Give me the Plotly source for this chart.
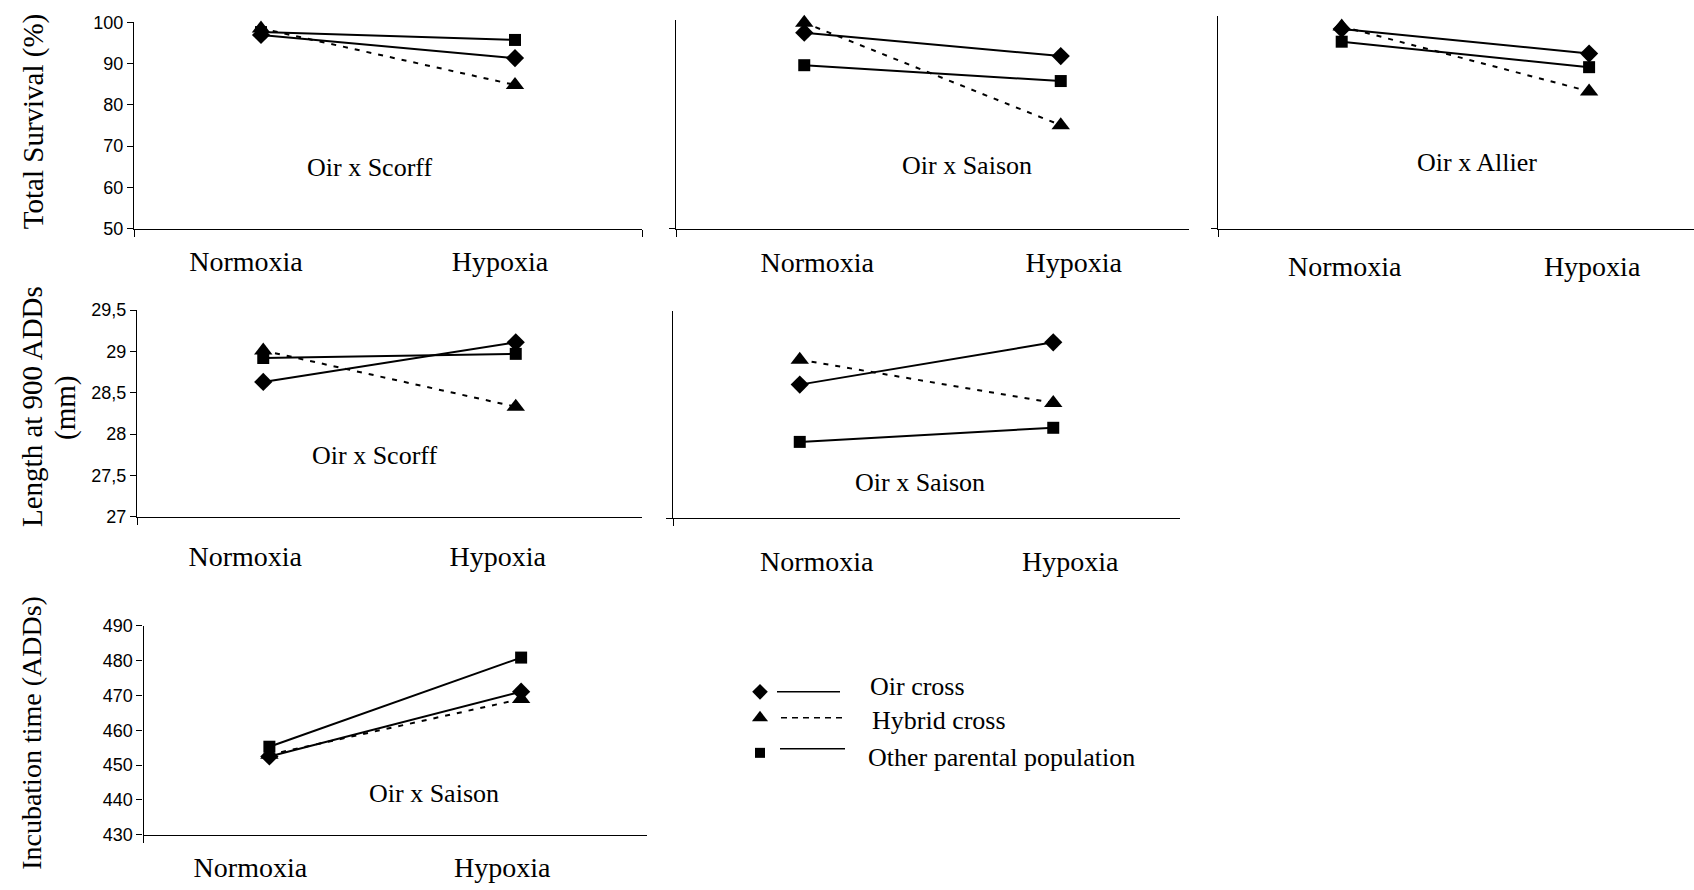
import plotly.graph_objects as go

# ---- data -------------------------------------------------------------
categories = ["Normoxia", "Hypoxia"]
series_names = ["Oir cross", "Hybrid cross", "Other parental population"]

survival_scorff_oir = [96.9, 91.3]
survival_scorff_hybrid = [98.5, 84.8]
survival_scorff_other = [97.6, 95.7]

survival_saison_oir = [97.0, 91.4]
survival_saison_hybrid = [99.4, 74.8]
survival_saison_other = [89.2, 85.4]

survival_allier_oir = [97.0, 91.2]
survival_allier_hybrid = [97.6, 82.3]
survival_allier_other = [94.0, 88.0]

length_scorff_oir = [28.63, 29.11]
length_scorff_hybrid = [29.01, 28.33]
length_scorff_other = [28.92, 28.97]

length_saison_oir = [28.61, 29.12]
length_saison_hybrid = [28.91, 28.39]
length_saison_other = [27.92, 28.09]

incubation_saison_oir = [452.5, 471.1]
incubation_saison_hybrid = [453.0, 469.0]
incubation_saison_other = [455.3, 480.9]

survival_ticks = [50, 60, 70, 80, 90, 100]
survival_ticktext = ["50", "60", "70", "80", "90", "100"]
length_ticks = [27, 27.5, 28, 28.5, 29, 29.5]
length_ticktext = ["27", "27,5", "28", "28,5", "29", "29,5"]
incubation_ticks = [430, 440, 450, 460, 470, 480, 490]
incubation_ticktext = ["430", "440", "450", "460", "470", "480", "490"]

# ---- page geometry ----------------------------------------------------
# Positions below are page pixels; fx/fy turn them into paper fractions.
W, H = 1694, 890
Y0, SY = 9.8, 0.978  # vertical placement of the page grid on the figure
SERIF = "Liberation Serif, Times New Roman, serif"
SANS = "Liberation Sans, Arial, sans-serif"


def fx(px):
    return min(max(px / W, 0.0), 1.0)


def fy(py):
    return min(max(1 - (py - Y0) / SY / H, 0.0), 1.0)


styles = {
    "Oir cross": dict(symbol="diamond", size=14, dash="solid"),
    "Hybrid cross": dict(symbol="triangle-up", size=16, dash="5px,7px"),
    "Other parental population": dict(symbol="square", size=12, dash="solid"),
}

panels = [
    dict(series=[survival_scorff_oir, survival_scorff_hybrid, survival_scorff_other],
         box=(134, 642, 22, 228.5), yrange=[50, 100],
         yticks=(survival_ticks, survival_ticktext), xend=1.5, xminor=[-0.5, 1.5],
         shift=-15, standoff=8, label="Oir x Scorff", lpos=(0.465, 0.298)),
    dict(series=[survival_saison_oir, survival_saison_hybrid, survival_saison_other],
         box=(676, 1189, 20, 228.5), yrange=[50, 100],
         yticks=None, xend=1.5, xminor=[-0.5],
         shift=13, standoff=9, label="Oir x Saison", lpos=(0.567, 0.305)),
    dict(series=[survival_allier_oir, survival_allier_hybrid, survival_allier_other],
         box=(1218, 1694, 16, 228.5), yrange=[50, 100],
         yticks=None, xend=1.424, xminor=[-0.5],
         shift=3, standoff=13, label="Oir x Allier", lpos=(0.544, 0.313)),
    dict(series=[length_scorff_oir, length_scorff_hybrid, length_scorff_other],
         box=(137, 642, 310, 516.7), yrange=[27, 29.5],
         yticks=(length_ticks, length_ticktext), xend=1.5, xminor=[-0.5],
         shift=-18, standoff=15, label="Oir x Scorff", lpos=(0.471, 0.298)),
    dict(series=[length_saison_oir, length_saison_hybrid, length_saison_other],
         box=(673, 1180, 310.7, 518.3), yrange=[27, 29.5],
         yticks=None, xend=1.5, xminor=[-0.5],
         shift=17, standoff=18, label="Oir x Saison", lpos=(0.487, 0.171)),
    dict(series=[incubation_saison_oir, incubation_saison_hybrid, incubation_saison_other],
         box=(143.5, 647, 626, 835), yrange=[430, 490],
         yticks=(incubation_ticks, incubation_ticktext), xend=1.5, xminor=[-0.5],
         shift=-19, standoff=7, label="Oir x Saison", lpos=(0.577, 0.196)),
]

fig = go.Figure()
layout = dict(
    width=W, height=H,
    margin=dict(l=0, r=0, t=0, b=0),
    paper_bgcolor="white", plot_bgcolor="rgba(0,0,0,0)",
    showlegend=False,
    annotations=[], shapes=[],
)

xpos = [0, 1]
for i, p in enumerate(panels, start=1):
    sfx = "" if i == 1 else str(i)
    xl, xr, yt, yb = p["box"]
    for name, values in zip(series_names, p["series"]):
        st = styles[name]
        fig.add_trace(go.Scatter(
            x=xpos, y=values, mode="lines+markers", name=name,
            xaxis="x" + sfx, yaxis="y" + sfx, cliponaxis=False,
            line=dict(color="black", width=2, dash=st["dash"]),
            marker=dict(symbol=st["symbol"], size=st["size"], color="black"),
            hoverinfo="skip",
        ))

    layout["xaxis" + sfx] = dict(
        domain=[fx(xl), fx(xr)], anchor="y" + sfx,
        range=[-0.5, p["xend"]], showgrid=False, zeroline=False,
        showline=True, linecolor="black", linewidth=1.3,
        tickmode="array", tickvals=xpos, ticktext=categories, ticks="",
        tickfont=dict(family=SERIF, size=28, color="black"),
        ticklabelshift=p["shift"], ticklabelstandoff=p["standoff"],
        minor=dict(tickmode="array", tickvals=p["xminor"], ticks="outside",
                   ticklen=7, tickwidth=1.3, tickcolor="black"),
        fixedrange=True,
    )
    if p["yticks"] is not None:
        tv, tt = p["yticks"]
        ytick = dict(tickmode="array", tickvals=tv, ticktext=tt, ticks="outside",
                     ticklen=6, tickwidth=1.3, tickcolor="black",
                     tickfont=dict(family=SANS, size=18, color="black"))
    else:
        ytick = dict(tickmode="array", tickvals=[p["yrange"][0]], ticktext=[""],
                     ticks="outside", ticklen=6, tickwidth=1.3, tickcolor="black")
    layout["yaxis" + sfx] = dict(
        domain=[fy(yb), fy(yt)], anchor="x" + sfx,
        range=p["yrange"], showgrid=False, zeroline=False,
        showline=True, linecolor="black", linewidth=1.3,
        fixedrange=True, **ytick,
    )
    layout["annotations"].append(dict(
        text=p["label"], xref="x" + sfx + " domain", yref="y" + sfx + " domain",
        x=p["lpos"][0], y=p["lpos"][1], showarrow=False,
        xanchor="center", yanchor="middle",
        font=dict(family=SERIF, size=26, color="black"),
    ))

# y-axis titles (page pixels)
for text, (px, py), size in [("Total Survival (%)", (33, 122), 29),
                             ("Length at 900 ADDs", (32, 407), 29),
                             ("(mm)", (65, 408), 29),
                             ("Incubation time (ADDs)", (32, 733), 28)]:
    layout["annotations"].append(dict(
        text=text, xref="paper", yref="paper", x=fx(px), y=fy(py),
        showarrow=False, textangle=-90, xanchor="center", yanchor="middle",
        font=dict(family=SERIF, size=size, color="black"),
    ))

# key: marker, line sample and label for each series (page-pixel axis)
layout["xaxis7"] = dict(domain=[0, 1], range=[0, W], visible=False,
                        anchor="y7", fixedrange=True)
layout["yaxis7"] = dict(domain=[0, 1], range=[Y0 + SY * H, Y0], visible=False,
                        anchor="x7", fixedrange=True)
key_rows = [(692, 692, 687, 777, 840, 868),
            (718, 718, 721, 781, 845, 870),
            (753, 749, 758, 780, 845, 866)]
for name, (my, ly, ty, lx0, lx1, tx) in zip(series_names, key_rows):
    st = styles[name]
    fig.add_trace(go.Scatter(
        x=[760], y=[my], mode="markers", xaxis="x7", yaxis="y7",
        marker=dict(symbol=st["symbol"], size=st["size"] - 2, color="black"),
        hoverinfo="skip", cliponaxis=False,
    ))
    key_dash = "6px,5px" if st["dash"] != "solid" else "solid"
    layout["shapes"].append(dict(
        type="line", xref="x7", yref="y7", x0=lx0, x1=lx1, y0=ly, y1=ly,
        line=dict(color="black", width=1.5, dash=key_dash),
    ))
    layout["annotations"].append(dict(
        text=name, xref="x7", yref="y7", x=tx, y=ty, showarrow=False,
        xanchor="left", yanchor="middle",
        font=dict(family=SERIF, size=26, color="black"),
    ))

fig.update_layout(**layout)
fig.write_html("out.html", config={"displayModeBar": False})
